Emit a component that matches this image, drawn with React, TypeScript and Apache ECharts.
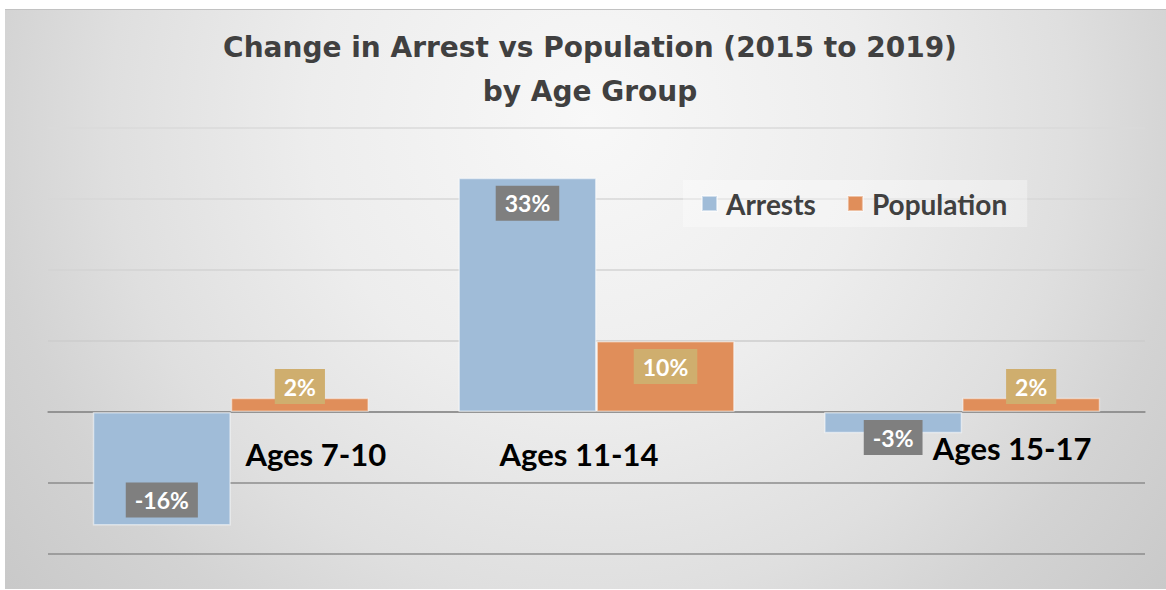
import React, { useEffect, useRef } from 'react';
import * as echarts from 'echarts';

const categories = ['Ages 7-10', 'Ages 11-14', 'Ages 15-17'];
const arrests = [-16, 33, -3];
const population = [2, 10, 2];
const seriesNames = ['Arrests', 'Population'];
const titleText = 'Change in Arrest vs Population (2015 to 2019)\nby Age Group';
const yMin = -20;
const yMax = 40;
const yStep = 10;

const arrestsLabelPos = ['insideBottom', 'insideTop', 'insideTop'];
const populationLabelPos = ['insideBottom', 'insideTop', 'insideBottom'];
const categoryLabelPadding = [
  [6, 0, 0, 170],
  [6, 35, 0, 0],
  [0, 0, 0, 100],
];

const CHART_W = 1166;
const CHART_H = 590;
const GRID_TOP = 128;
const GRID_BOTTOM = 36;

export default function App() {
  const ref = useRef<HTMLDivElement>(null);
  useEffect(() => {
    document.body.style.margin = '0';
    const chart = echarts.init(ref.current!, null, { renderer: 'svg' });
    const gridHeight = CHART_H - GRID_TOP - GRID_BOTTOM;
    // move the category axis from the grid bottom up to the value 0
    const zeroOffset = -gridHeight * ((0 - yMin) / (yMax - yMin));
    const valueLabel = (bg: string) => ({
      show: true,
      formatter: '{c}%',
      color: '#ffffff',
      fontFamily: 'Lato',
      fontWeight: 'bold',
      fontSize: 23,
      lineHeight: 23,
      backgroundColor: bg,
      padding: [6, 9, 6, 9],
      distance: 8,
    });
    chart.setOption({
      animation: false,
      graphic: {
        elements: [
          {
            type: 'rect',
            z: -100,
            shape: { x: 5, y: 9, width: 1161, height: 580 },
            style: {
              fill: new echarts.graphic.RadialGradient(
                590,
                120,
                800,
                [
                  { offset: 0, color: '#f8f8f8' },
                  { offset: 0.35, color: '#ededed' },
                  { offset: 0.6, color: '#dfdfdf' },
                  { offset: 0.75, color: '#d3d3d3' },
                  { offset: 0.95, color: '#c8c8c8' },
                ],
                true
              ),
            },
          },
          {
            type: 'line',
            z: -99,
            shape: { x1: 5, y1: 9.5, x2: 1166, y2: 9.5 },
            style: { stroke: '#c2c2c2', lineWidth: 1 },
          },
        ],
      },
      title: {
        text: titleText,
        left: 585,
        top: 20,
        textAlign: 'center',
        textStyle: {
          fontFamily: 'DejaVu Sans',
          fontWeight: 'bold',
          fontSize: 28,
          lineHeight: 44,
          color: '#404040',
        },
      },
      legend: {
        data: seriesNames,
        left: 683,
        top: 180,
        padding: [9, 20, 9, 18],
        itemWidth: 15,
        itemHeight: 15,
        itemGap: 31,
        icon: 'rect',
        backgroundColor: 'rgba(255,255,255,0.35)',
        textStyle: {
          fontFamily: 'Lato',
          fontWeight: 'bold',
          fontSize: 28,
          lineHeight: 29,
          color: '#404040',
          padding: [0, 0, 0, 4],
        },
      },
      grid: {
        left: 48,
        right: 21,
        top: GRID_TOP,
        bottom: GRID_BOTTOM,
        containLabel: false,
        outerBoundsMode: 'none',
      },
      xAxis: {
        type: 'category',
        position: 'bottom',
        offset: zeroOffset,
        data: categories.map((c, i) => ({
          value: c,
          textStyle: { padding: categoryLabelPadding[i] },
        })),
        axisLine: { show: true, onZero: false, lineStyle: { color: '#8f8f8f', width: 1.5 } },
        axisTick: { show: false },
        axisLabel: {
          interval: 0,
          margin: 20,
          fontFamily: 'Lato',
          fontWeight: 'bold',
          fontSize: 31,
          color: '#000000',
        },
        splitLine: { show: false },
      },
      yAxis: {
        type: 'value',
        min: yMin,
        max: yMax,
        interval: yStep,
        axisLabel: { show: false },
        axisLine: { show: false },
        axisTick: { show: false },
        splitLine: {
          lineStyle: {
            color: ['#8c8c8c', '#8c8c8c', '#8f8f8f', '#cccccc', '#d3d3d3', '#d7d7d7', '#dadada'],
            width: 1.5,
          },
        },
      },
      series: [
        {
          name: seriesNames[0],
          type: 'bar',
          barGap: '0%',
          barCategoryGap: '24.5%',
          data: arrests.map((v, i) => ({ value: v, label: { position: arrestsLabelPos[i] } })),
          itemStyle: { color: '#a0bcd8', borderColor: 'rgba(255,255,255,0.5)', borderWidth: 1.5 },
          label: valueLabel('#7f7f7f'),
        },
        {
          name: seriesNames[1],
          type: 'bar',
          barGap: '0%',
          barCategoryGap: '24.5%',
          data: population.map((v, i) => ({ value: v, label: { position: populationLabelPos[i] } })),
          itemStyle: { color: '#e08e5a', borderColor: 'rgba(255,255,255,0.45)', borderWidth: 1.5 },
          label: valueLabel('#cfae6e'),
        },
      ],
    });
    return () => chart.dispose();
  }, []);
  return <div ref={ref} style={{ width: CHART_W, height: CHART_H }} />;
}
